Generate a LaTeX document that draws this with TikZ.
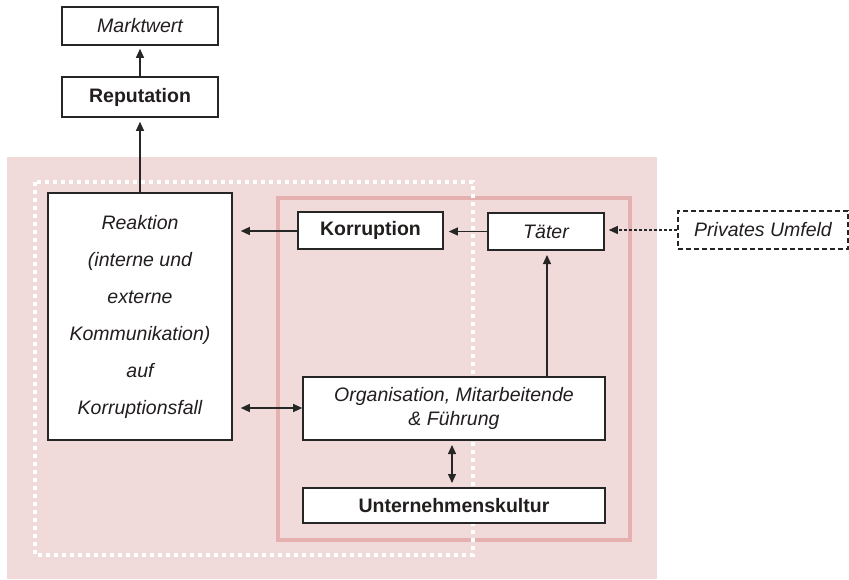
\documentclass[tikz,border=0pt]{standalone}
\usepackage{fontspec}
\setmainfont{Liberation Sans}
\usetikzlibrary{arrows.meta}
\definecolor{bgpink}{RGB}{241,218,218}
\definecolor{borderpink}{RGB}{228,176,176}
\definecolor{txt}{RGB}{35,30,30}
\tikzset{
  box/.style={draw=black!85, line width=1.6pt, fill=white, inner sep=0pt, text=txt, align=center, font=\fontsize{19.5}{24}\selectfont},
  arr/.style={-{Triangle[length=9pt,width=8pt]}, line width=1.2pt, draw=black!85},
  darr/.style={{Triangle[length=9pt,width=8pt]}-{Triangle[length=9pt,width=8pt]}, line width=1.2pt, draw=black!85},
}
\begin{document}
\begin{tikzpicture}[x=1pt,y=-1pt]
\useasboundingbox (0,0) rectangle (849,579);
% background
\fill[bgpink] (7,157) rectangle (657,579);
\draw[borderpink, line width=3.5pt] (278,198) rectangle (630,540);
\draw[white, line width=3.5pt, dash pattern=on 4pt off 4pt] (35,182) rectangle (473,555);
% nodes
\node[box, minimum width=156pt, minimum height=38pt, font=\fontsize{19.5}{24}\selectfont\itshape] (mw) at (140,26) {Marktwert};
\node[box, minimum width=156pt, minimum height=40pt, font=\fontsize{19.5}{24}\selectfont\bfseries] (rep) at (140,97) {Reputation};
\node[box, minimum width=184pt, minimum height=247pt, font=\fontsize{19.5}{37}\selectfont\itshape] (rea) at (140,316.5) {Reaktion\\(interne und\\externe\\Kommunikation)\\auf\\Korruptionsfall};
\node[box, minimum width=145pt, minimum height=37pt, font=\fontsize{19.5}{24}\selectfont\bfseries] (kor) at (370.5,230.5) {Korruption};
\node[box, minimum width=116pt, minimum height=37pt, font=\fontsize{19.5}{24}\selectfont\itshape] (tae) at (546,231.5) {Täter};
\node[box, minimum width=302pt, minimum height=63pt, font=\fontsize{19.5}{24}\selectfont\itshape] (org) at (454,408.5) {Organisation, Mitarbeitende\\\& Führung};
\node[box, minimum width=302pt, minimum height=35pt, font=\fontsize{19.5}{24}\selectfont\bfseries] (uk) at (454,505.5) {Unternehmenskultur};
\node[box, dashed, dash pattern=on 5pt off 3pt, minimum width=170pt, minimum height=38pt, font=\fontsize{19.5}{24}\selectfont\itshape] (pu) at (763,230) {Privates Umfeld};
% connectors
\draw[arr] (rep.north) -- ([yshift=-3pt]mw.south);
\draw[arr] (rea.north) -- ([yshift=-4pt]rep.south);
\draw[arr] (kor.west |- 0,231) -- ([xshift=8pt]rea.east |- 0,231);
\draw[arr] (tae.west) -- ([xshift=5pt]kor.east |- tae.west);
\draw[arr, dash pattern=on 3pt off 2pt] (pu.west) -- ([xshift=4pt]tae.east |- pu.west);
\draw[arr] (org.north -| 547,0) -- (547,255);
\draw[darr] ([xshift=8pt]rea.east |- 0,408) -- (org.west |- 0,408);
\draw[darr] (452,445) -- (452,483);
\end{tikzpicture}
\end{document}
